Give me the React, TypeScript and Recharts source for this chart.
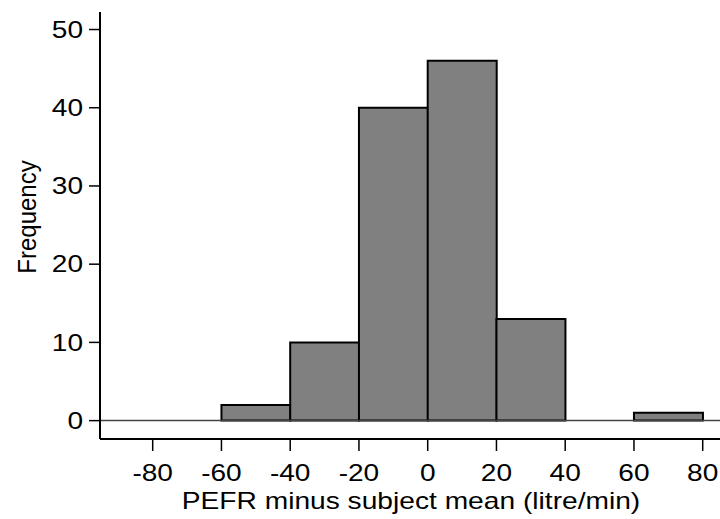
import React from "react";
import { ComposedChart, Bar, XAxis, YAxis, ReferenceLine, Label } from "recharts";

const binMids = [-50, -30, -10, 10, 30, 50, 70];
const frequencies = [2, 10, 40, 46, 13, 0, 1];
const xTicks = [-80, -60, -40, -20, 0, 20, 40, 60, 80];
const yTicks = [0, 10, 20, 30, 40, 50];
const xTitle = "PEFR minus subject mean (litre/min)";
const yTitle = "Frequency";

const data = binMids.map((m, i) => ({ mid: m, freq: frequencies[i] }));

const FONT = "'Liberation Sans', Arial, Helvetica, sans-serif";
const SX = 1.22;

const XTick = (props: any) => {
  const { x, y, payload } = props;
  return (
    <text
      transform={`translate(${x},${y + 28}) scale(${SX},1)`}
      textAnchor="middle"
      fontSize={23}
      fontFamily={FONT}
      fill="#000"
    >
      {payload.value}
    </text>
  );
};

const YTick = (props: any) => {
  const { x, y, payload } = props;
  return (
    <text
      transform={`translate(${x - 4},${y + 8.3}) scale(${SX},1)`}
      textAnchor="end"
      fontSize={23}
      fontFamily={FONT}
      fill="#000"
    >
      {payload.value}
    </text>
  );
};

export default function App() {
  return (
    <div style={{ position: "absolute", left: 0, top: 0, width: 720, height: 519, background: "#fff" }}>
      <ComposedChart
        width={720}
        height={519}
        data={data}
        margin={{ top: 12, right: 0, left: 0, bottom: 0 }}
        barCategoryGap={0}
        barGap={0}
      >
        <XAxis
          xAxisId="top"
          orientation="top"
          type="number"
          dataKey="mid"
          domain={[-95.33, 85.03]}
          allowDataOverflow
          height={0}
          tick={false}
          tickLine={false}
          axisLine={{ stroke: "#000", strokeWidth: 2 }}
        />
        <XAxis
          type="number"
          dataKey="mid"
          domain={[-95.33, 85.03]}
          allowDataOverflow
          ticks={xTicks}
          interval={0}
          height={80}
          tickSize={12}
          tick={<XTick />}
          tickLine={{ stroke: "#000", strokeWidth: 1.5 }}
          axisLine={{ stroke: "#000", strokeWidth: 2 }}
        >
          <Label
            content={() => (
              <text
                transform={`translate(411,509) scale(1.225,1)`}
                textAnchor="middle"
                fontSize={23}
                fontFamily={FONT}
                fill="#000"
              >
                {xTitle}
              </text>
            )}
          />
        </XAxis>
        <YAxis
          type="number"
          domain={[-2.35, 52.24]}
          allowDataOverflow
          ticks={yTicks}
          interval={0}
          width={100}
          tickSize={11}
          tick={<YTick />}
          tickLine={{ stroke: "#000", strokeWidth: 1.5 }}
          axisLine={{ stroke: "#000", strokeWidth: 2 }}
        >
          <Label
            content={() => (
              <text
                transform={`translate(35.5,217) rotate(-90) scale(1,1.05)`}
                textAnchor="middle"
                fontSize={24}
                fontFamily={FONT}
                fill="#000"
              >
                {yTitle}
              </text>
            )}
          />
        </YAxis>
        <ReferenceLine y={0} stroke="#444" strokeWidth={1.5} />
        <Bar
          dataKey="freq"
          fill="#808080"
          stroke="#000"
          strokeWidth={2}
          isAnimationActive={false}
        />
      </ComposedChart>
    </div>
  );
}
